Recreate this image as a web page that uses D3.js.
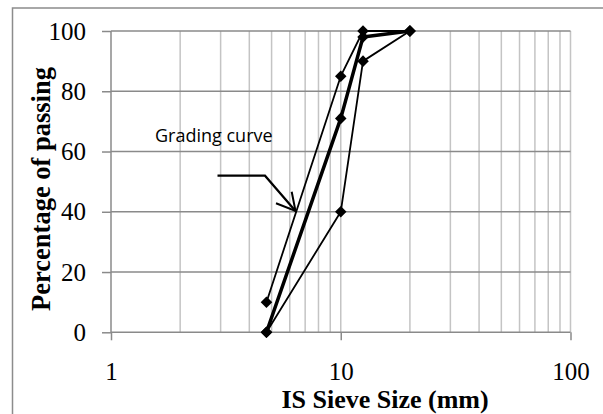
<!DOCTYPE html>
<html><head><meta charset="utf-8">
<script src="https://cdn.jsdelivr.net/npm/d3@7/dist/d3.min.js"></script>
<style>body{margin:0;background:#fff}svg{display:block}</style>
</head><body>
<svg id="c" width="603" height="414"></svg>
<script>
// Data
const sieveSizes = [4.75, 10, 12.5, 20];
const seriesA = [10, 85, 100, 100];   // thin upper
const seriesB = [0, 71, 98, 100];     // thick (grading curve)
const seriesC = [0, 40, 90, 100];     // thin lower
const yTicks = [0, 20, 40, 60, 80, 100];
const xTicks = [1, 10, 100];
const xMinor = [2,3,4,5,6,7,8,9,10,20,30,40,50,60,70,80,90,100];
const annotation = "Grading curve";

const svg = d3.select("#c");
const x = d3.scaleLog().domain([1, 100]).range([111, 570.5]);
const y = d3.scaleLinear().domain([0, 100]).range([332.3, 31]);
const serif = "'Liberation Serif','Times New Roman',serif";

// outer frame
svg.append("rect").attr("x", 12.5).attr("y", 8).attr("width", 640).attr("height", 440)
  .attr("fill", "none").attr("stroke", "#8c8c8c").attr("stroke-width", 1.5);

// vertical grid
svg.append("g").selectAll("line").data(xMinor).join("line")
  .attr("x1", d => x(d)).attr("x2", d => x(d))
  .attr("y1", y(0)).attr("y2", y(100))
  .attr("stroke", "#c4c4c4").attr("stroke-width", 1.5);
// horizontal grid
svg.append("g").selectAll("line").data(yTicks.filter(d => d > 0)).join("line")
  .attr("x1", x(1)).attr("x2", x(100))
  .attr("y1", d => y(d)).attr("y2", d => y(d))
  .attr("stroke", "#8a8a8a").attr("stroke-width", 1.5);

// Axes
const yAxis = d3.axisLeft(y).tickValues(yTicks).tickSize(9).tickPadding(16).tickFormat(d3.format("d"));
const gy = svg.append("g").attr("transform", `translate(${x(1)},0)`).call(yAxis);
const xAxis = d3.axisBottom(x).tickValues(xTicks).tickSize(8).tickPadding(22).tickFormat(d3.format("d"));
const gx = svg.append("g").attr("transform", `translate(0,${y(0)})`).call(xAxis);
[gy, gx].forEach(g => {
  g.select(".domain").attr("stroke", "#8a8a8a").attr("stroke-width", 1.5);
  g.selectAll(".tick line").attr("stroke", "#8a8a8a").attr("stroke-width", 1.5);
  g.selectAll(".tick text").attr("fill", "#000")
    .style("font-family", serif).style("font-size", "25px");
});
gy.select(".domain").attr("d", `M-0,${y(100)}V${y(0)}`);
gx.select(".domain").attr("d", `M${x(1)},0H${x(100)}`);

// Axis titles
svg.append("text").attr("x", 385).attr("y", 407.5).attr("text-anchor", "middle")
  .style("font-family", serif).style("font-size", "26px").style("font-weight", "bold")
  .text("IS Sieve Size (mm)");
svg.append("text").attr("transform", `translate(50,189) rotate(-90)`).attr("text-anchor", "middle")
  .style("font-family", serif).style("font-size", "26.5px").style("font-weight", "bold")
  .text("Percentage of passing");

// Series
const series = [
  {vals: seriesC, w: 1.8},
  {vals: seriesA, w: 1.8},
  {vals: seriesB, w: 3.5}
];
const line = d3.line().x(d => x(d[0])).y(d => y(d[1]));
const diamond = d3.symbol().type(d3.symbolDiamond2).size(85);
series.forEach(s => {
  const pts = sieveSizes.map((v, i) => [v, s.vals[i]]);
  svg.append("path").datum(pts).attr("d", line).attr("fill", "none")
    .attr("stroke", "#000").attr("stroke-width", s.w).attr("stroke-linejoin", "round");
  svg.append("g").selectAll("path").data(pts).join("path")
    .attr("transform", d => `translate(${x(d[0])},${y(d[1])})`)
    .attr("d", diamond).attr("fill", "#000");
});

// Annotation
svg.append("text").attr("x", 155).attr("y", 141.5)
  .style("font-family", "'Open Sans','Noto Sans',sans-serif").style("font-size", "18px").attr("fill", "#000")
  .text(annotation);
const tip = [295.5, 211];
svg.append("path").attr("d", `M217.5,175.7H265L${tip[0]},${tip[1]}`)
  .attr("fill", "none").attr("stroke", "#000").attr("stroke-width", 2.2);
svg.append("path").attr("d", `M276,203.3L${tip[0]},${tip[1]}L291.7,191.7`)
  .attr("fill", "none").attr("stroke", "#000").attr("stroke-width", 2);
</script>
</body></html>
